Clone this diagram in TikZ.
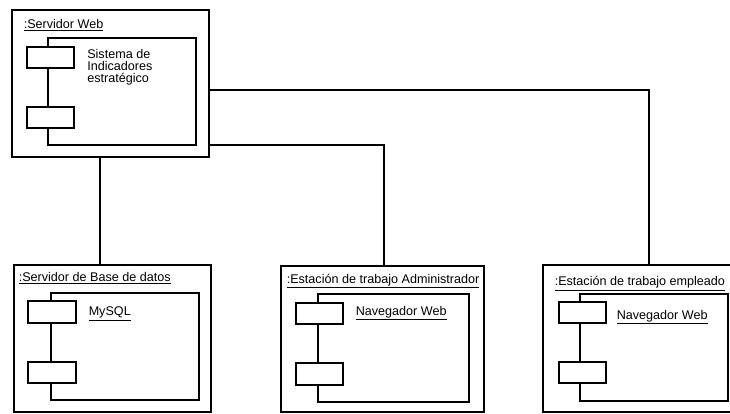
\documentclass[tikz,border=0pt]{standalone}
\usepackage{fontspec}
\setmainfont{Liberation Sans}
\begin{document}
\begin{tikzpicture}[x=1pt,y=-1pt,line width=1.5pt,
  nodo/.style={draw, inner sep=0pt},
  txt/.style={anchor=base west, inner sep=0pt, font=\fontsize{12.6}{13.2}\selectfont},
  puerto/.style={draw, fill=white}]
\useasboundingbox (0,0) rectangle (730,413);

% nodos
\node[nodo, minimum width=197pt, minimum height=147pt] (web) at (110.5,83.5) {};
\node[nodo, minimum width=197pt, minimum height=147pt] (bd) at (112.5,338.5) {};
\node[nodo, minimum width=203pt, minimum height=146pt] (adm) at (382.5,339) {};
\node[nodo, minimum width=202pt, minimum height=147pt] (emp) at (644,338.5) {};

% componentes
\draw (48,38) rectangle (196,145);
\draw[puerto] (27,47) rectangle (74,68);
\draw[puerto] (27,107) rectangle (74,128);

\draw (51,293) rectangle (199,400);
\draw[puerto] (28,301) rectangle (76,323);
\draw[puerto] (28,362) rectangle (76,383);

\draw (318,294) rectangle (469,402);
\draw[puerto] (296,303) rectangle (343,324);
\draw[puerto] (296,363) rectangle (343,385);

\draw (580,294) rectangle (728,401);
\draw[puerto] (559,302) rectangle (606,323);
\draw[puerto] (559,362) rectangle (606,383);

% textos
\node[txt] (tweb) at (23,28.3) {\underline{:Servidor Web}};
\node[txt, align=left, font=\fontsize{12.6}{11.7}\selectfont] (tsis) at (86.5,82.3) {Sistema de\\Indicadores\\estratégico};
\node[txt] (tbd) at (18,281.7) {\underline{:Servidor de Base de datos}};
\node[txt] (tsql) at (88,315.7) {\underline{MySQL}};
\node[txt] (tadm) at (286,283) {\underline{:Estación de trabajo Administrador}};
\node[txt] (tnav1) at (355,315) {\underline{Navegador Web}};
\node[txt] (temp) at (554,285.7) {\underline{:Estación de trabajo empleado}};
\node[txt] (tnav2) at (616,319) {\underline{Navegador Web}};

% conexiones
\draw (web.south -| 100,0) -- (bd.north -| 100,0);
\draw (web.east |- 0,145) -| (adm.north -| 384,0);
\draw (web.east |- 0,90) -| (emp.north -| 649,0);
\end{tikzpicture}
\end{document}
